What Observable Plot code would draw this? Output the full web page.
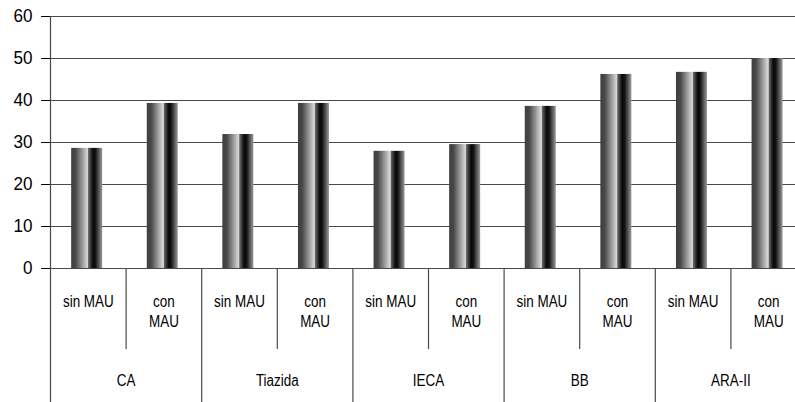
<!DOCTYPE html>
<html>
<head>
<meta charset="utf-8">
<script src="https://cdn.jsdelivr.net/npm/d3@7"></script>
<script src="https://cdn.jsdelivr.net/npm/@observablehq/plot@0.6"></script>
<style>
  html, body { margin: 0; padding: 0; background: #fff; overflow: hidden; }
  #chart svg { display: block; }
</style>
</head>
<body>
<div id="chart"></div>
<script>
// ---- data ----
const groups = ["CA", "Tiazida", "IECA", "BB", "ARA-II"];
const subLabels = ["sin MAU", "con\nMAU"];
const sinMAU = [28.6, 31.9, 27.9, 38.6, 46.7];
const conMAU = [39.3, 39.3, 29.5, 46.2, 50.0];
const yTicks = [0, 10, 20, 30, 40, 50, 60];

// rows: one per slot (group × sub-category)
const rows = groups.flatMap((g, gi) => [
  {slot: 2 * gi, group: g, sub: subLabels[0], value: sinMAU[gi]},
  {slot: 2 * gi + 1, group: g, sub: subLabels[1], value: conMAU[gi]}
]);
const groupRows = groups.map((g, gi) => ({group: g, start: 2 * gi, mid: 2 * gi + 1}));
const subBounds = groups.map((g, gi) => 2 * gi + 1);
const groupBounds = groups.map((g, gi) => 2 * gi).slice(1).concat([2 * groups.length]);

const font = "'Liberation Sans', Arial, Helvetica, sans-serif";
const groupDepth = -32;   // how far group dividers reach below zero (y units)
const subDepth = -19.3;   // how far sub dividers reach below zero (y units)

const chart = Plot.plot({
  width: 795,
  height: 402,
  marginTop: 16,
  marginBottom: 0,
  marginLeft: 50,
  marginRight: 0,
  style: {fontFamily: font, fontSize: "18px", color: "#000", background: "#fff"},
  x: {type: "linear", domain: [0, 2 * groups.length], range: [50, 806], axis: null},
  y: {domain: [0, 60], range: [268, 16], ticks: yTicks, tickSize: 9, tickPadding: 9, label: null, tickFormat: d => String(d)},
  marks: [
    Plot.ruleY(yTicks, {stroke: "#4a4a4a", strokeWidth: 1.2}),
    Plot.rectY(rows, {x1: d => d.slot + 0.28, x2: d => d.slot + 0.69, y1: 0, y2: "value", fill: "url(#barGrad)"}),
    Plot.ruleX([0], {stroke: "#4a4a4a", strokeWidth: 1.2}),
    Plot.ruleX(groupBounds, {x: d => d, y1: 0, y2: groupDepth, stroke: "#4a4a4a", strokeWidth: 1.2}),
    Plot.ruleX(subBounds, {x: d => d, y1: 0, y2: subDepth, stroke: "#4a4a4a", strokeWidth: 1.2}),
    Plot.text(rows, {x: d => d.slot + 0.5, y: 0, text: "sub", dy: 24.6, lineAnchor: "top", lineHeight: 1.25, fontSize: 16, fill: "#000"}),
    Plot.text(groupRows, {x: "mid", y: 0, text: "group", dy: 117, lineAnchor: "bottom", fontSize: 16, fill: "#000"})
  ]
});

// gradient definition used by the bars (cylinder-like shading)
const ns = "http://www.w3.org/2000/svg";
const defs = document.createElementNS(ns, "defs");
const grad = document.createElementNS(ns, "linearGradient");
grad.setAttribute("id", "barGrad");
grad.setAttribute("x1", "0"); grad.setAttribute("x2", "1");
grad.setAttribute("y1", "0"); grad.setAttribute("y2", "0");
[
  [0, "#3e3e3e"], [0.14, "#484848"], [0.52, "#d6d6d6"], [0.545, "#c8c8c8"],
  [0.555, "#6a6a6a"], [0.7, "#0a0a0a"], [0.78, "#111"], [1, "#9a9a9a"]
].forEach(([o, c]) => {
  const s = document.createElementNS(ns, "stop");
  s.setAttribute("offset", o);
  s.setAttribute("stop-color", c);
  grad.appendChild(s);
});
defs.appendChild(grad);
chart.insertBefore(defs, chart.firstChild);

document.getElementById("chart").appendChild(chart);

// condensed look (reference uses a condensed grotesque): narrow the glyphs
chart.querySelectorAll("text").forEach(t => {
  const isAxis = !!t.closest('[aria-label*="axis"]');
  const f = isAxis ? 0.95 : 0.84;
  const spans = t.querySelectorAll("tspan");
  const targets = spans.length ? [...spans] : [t];
  targets.forEach(el => {
    const L = el.getComputedTextLength();
    if (L > 0) {
      el.setAttribute("textLength", (L * f).toFixed(2));
      el.setAttribute("lengthAdjust", "spacingAndGlyphs");
    }
  });
});
</script>
</body>
</html>
